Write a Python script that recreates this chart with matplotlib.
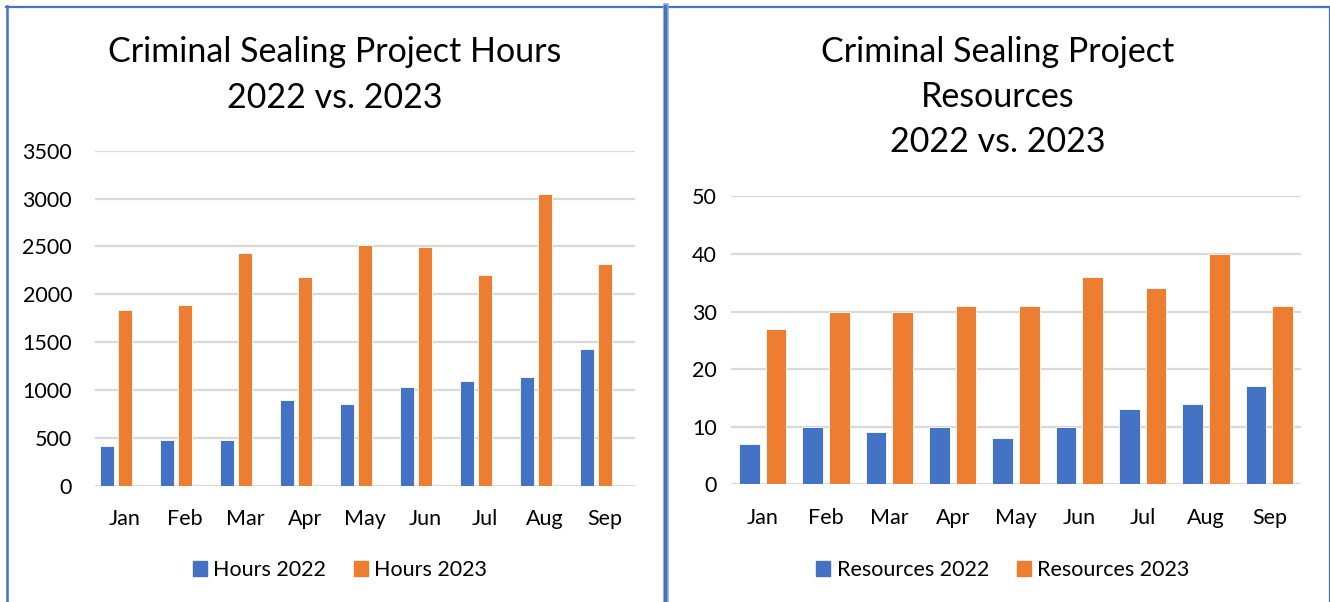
import numpy as np
import matplotlib
matplotlib.use('Agg')
import matplotlib.pyplot as plt
from matplotlib.lines import Line2D
from matplotlib.patches import Patch

plt.rcParams['font.family'] = ['Lato', 'DejaVu Sans']

months = ['Jan', 'Feb', 'Mar', 'Apr', 'May', 'Jun', 'Jul', 'Aug', 'Sep']
hours_2022 = [420, 480, 480, 900, 850, 1030, 1090, 1140, 1430]
hours_2023 = [1840, 1890, 2430, 2180, 2520, 2490, 2200, 3050, 2320]
res_2022 = [7, 10, 9, 10, 8, 10, 13, 14, 17]
res_2023 = [27, 30, 30, 31, 31, 36, 34, 40, 31]

BLUE = '#4472C4'
ORANGE = '#ED7D31'
GRID = '#D9D9D9'
TXT = '#000000'

W, H = 1330, 602
fig = plt.figure(figsize=(W / 100, H / 100), dpi=100)


def fx(px):
    return px / W


def fy(py):
    return 1 - py / H


def style(ax, ticks, ypad):
    ax.set_yticks(ticks)
    ax.yaxis.grid(True, color=GRID, lw=1.6)
    ax.set_axisbelow(True)
    for s in ax.spines.values():
        s.set_visible(False)
    ax.tick_params(length=0, labelsize=15.5, colors=TXT)
    ax.tick_params(axis='x', pad=17)
    ax.tick_params(axis='y', pad=ypad)


# --- left: hours ---
ax1 = fig.add_axes([fx(95), fy(485.7), fx(540), (485.7 - 150.7) / H])
x = np.arange(len(months))
ax1.bar(x - 0.3, hours_2022, 0.24, color=BLUE, edgecolor='white', lw=0.6)
ax1.bar(x, hours_2023, 0.24, color=ORANGE, edgecolor='white', lw=0.6)
ax1.set_xlim(-0.5, 8.5)
ax1.set_ylim(0, 3500)
ax1.set_xticks(x, months)
style(ax1, np.arange(0, 3501, 500), 16.5)
fig.text(fx(335), fy(52), 'Criminal Sealing Project Hours', ha='center', va='center', fontsize=24.5)
fig.text(fx(335), fy(98), '2022 vs. 2023', ha='center', va='center', fontsize=24.5)
fig.legend(handles=[Patch(color=BLUE, label='Hours 2022'), Patch(color=ORANGE, label='Hours 2023')],
           loc='center', bbox_to_anchor=(fx(340), fy(570)), ncol=2, frameon=False,
           fontsize=15.5, handlelength=0.65, handleheight=0.65, handletextpad=0.3, columnspacing=1.3)

# --- right: resources ---
ax2 = fig.add_axes([fx(731), fy(484.3), fx(570), (484.3 - 196.3) / H])
ax2.bar(x - 0.21, res_2022, 0.33, color=BLUE, edgecolor='white', lw=0.6)
ax2.bar(x + 0.21, res_2023, 0.33, color=ORANGE, edgecolor='white', lw=0.6)
ax2.set_xlim(-0.5, 8.5)
ax2.set_ylim(0, 50)
ax2.set_xticks(x, months)
style(ax2, np.arange(0, 51, 10), 10)
fig.text(fx(998), fy(52), 'Criminal Sealing Project', ha='center', va='center', fontsize=24.5)
fig.text(fx(998), fy(97), 'Resources', ha='center', va='center', fontsize=24.5)
fig.text(fx(998), fy(142), '2022 vs. 2023', ha='center', va='center', fontsize=24.5)
fig.legend(handles=[Patch(color=BLUE, label='Resources 2022'), Patch(color=ORANGE, label='Resources 2023')],
           loc='center', bbox_to_anchor=(fx(1003), fy(570)), ncol=2, frameon=False,
           fontsize=15.5, handlelength=0.65, handleheight=0.65, handletextpad=0.3, columnspacing=1.3)

# --- panel borders ---
fig.add_artist(Line2D([fx(6), fx(1328)], [fy(6.5), fy(6.5)], color=BLUE, lw=1.6))
fig.add_artist(Line2D([fx(6.5), fx(6.5)], [fy(6), 0], color=BLUE, lw=1.8))
fig.add_artist(Line2D([fx(665.5), fx(665.5)], [fy(6), 0], color='#8EA9DB', lw=4.0))
fig.add_artist(Line2D([fx(665), fx(665)], [fy(6), 0], color=BLUE, lw=2.4))
fig.add_artist(Line2D([fx(1328.5), fx(1328.5)], [fy(6), 0], color=BLUE, lw=0.9))

fig.savefig('out.png', dpi=100)
